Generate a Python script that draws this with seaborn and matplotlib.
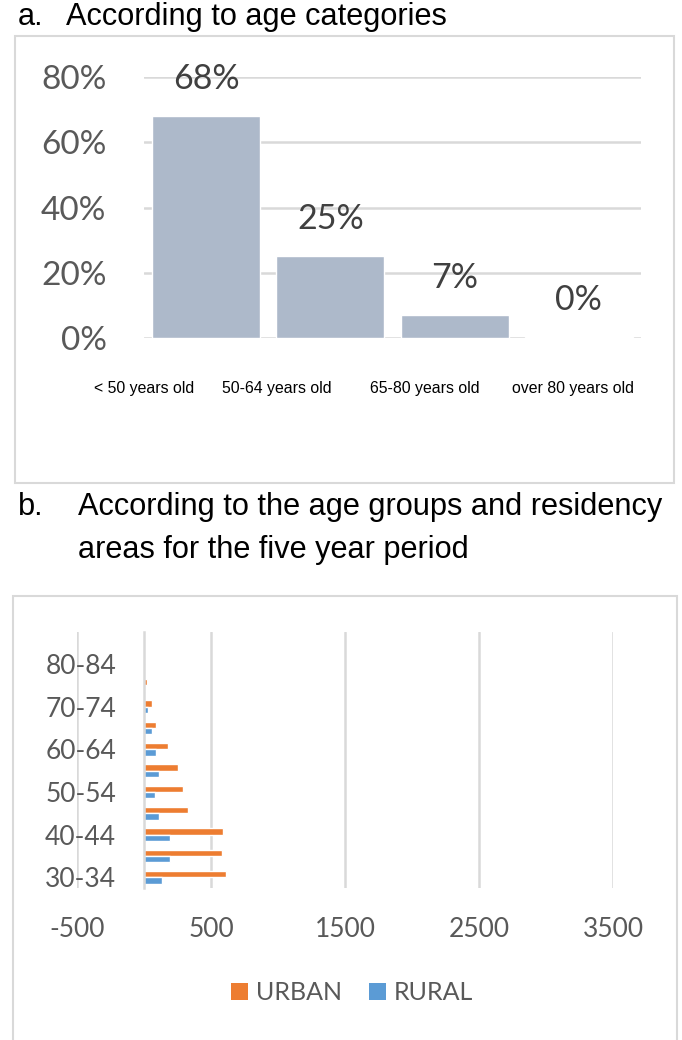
import matplotlib
matplotlib.use('Agg')
import matplotlib.pyplot as plt
import matplotlib.transforms as mtransforms
from matplotlib import font_manager
from matplotlib.patches import Rectangle, Patch
from matplotlib.ticker import PercentFormatter
import seaborn as sns
import pandas as pd

# a. share of patients by age category
age_categories = ['< 50 years old', '50-64 years old', '65-80 years old', 'over 80 years old']
age_share = [0.68, 0.25, 0.07, 0.003]
share_labels = ['68%', '25%', '7%', '0%']

# b. counts by five year age group and residency
age_groups = ['30-34', '35-39', '40-44', '45-49', '50-54', '55-59',
              '60-64', '65-69', '70-74', '75-79', '80-84', '85+']
urban = [615, 583, 586, 330, 288, 256, 176, 92, 56, 20, 10, 0]
rural = [134, 192, 194, 110, 82, 112, 86, 56, 28, 10, 3, 0]
areas = ['URBAN', 'RURAL']
area_colors = {'URBAN': '#ED7D31', 'RURAL': '#5B9BD5'}

sns.set_theme(style='white')
installed = {f.name for f in font_manager.fontManager.ttflist}
narrow = 'Liberation Sans Narrow' in installed
text_family = ['Liberation Sans Narrow', 'DejaVu Sans'] if narrow else ['Liberation Sans', 'DejaVu Sans']
k = 1.0 if narrow else 0.82
num_family = ['Lato', 'DejaVu Sans']
plt.rcParams['font.family'] = num_family
plt.rcParams['axes.unicode_minus'] = False

W, H = 682, 1040
fig = plt.figure(figsize=(W / 100, H / 100), dpi=100)
grid_col = '#d9d9d9'


def frame(x0, y0, x1, y1):
    fig.add_artist(Rectangle((x0 / W, 1 - y1 / H), (x1 - x0) / W, (y1 - y0) / H,
                             transform=fig.transFigure, fill=False,
                             edgecolor=grid_col, lw=1.5))


frame(15, 36, 674, 483)
frame(13, 596, 677, 1045)

fig.text(18 / W, 1 - 17 / H, 'a.', va='center', family=text_family, size=27 * k, color='black')
fig.text(66 / W, 1 - 17 / H, 'According to age categories', va='center',
         family=text_family, size=27 * k, color='black')
fig.text(18 / W, 1 - 507 / H, 'b.', va='center', family=text_family, size=27 * k, color='black')
fig.text(78 / W, 1 - 507 / H, 'According to the age groups and residency', va='center',
         family=text_family, size=27 * k, color='black')
fig.text(78 / W, 1 - 550 / H, 'areas for the five year period', va='center',
         family=text_family, size=27 * k, color='black')

# ---- panel a
ax1 = fig.add_axes([144 / W, 1 - 338 / H, 497 / W, 261 / H])
df_a = pd.DataFrame({'category': age_categories, 'share': age_share})
sns.barplot(data=df_a, x='category', y='share', color='#ADB9CA', saturation=1,
            width=0.87, errorbar=None, ax=ax1)
ax1.set_ylim(0, 0.8)
ax1.set_yticks([0, 0.2, 0.4, 0.6, 0.8])
ax1.yaxis.set_major_formatter(PercentFormatter(1.0, decimals=0))
ax1.yaxis.grid(True, color=grid_col, lw=1.8)
ax1.set_axisbelow(True)
for s in ax1.spines.values():
    s.set_visible(False)
ax1.set_xlabel('')
ax1.set_ylabel('')
ax1.tick_params(axis='y', length=0, pad=27, labelsize=24, labelcolor='#595959')
ax1.tick_params(axis='x', length=0, pad=31, labelsize=14 * k, labelcolor='black')
for bar, lab in zip(ax1.patches, share_labels):
    ax1.annotate(lab, (bar.get_x() + bar.get_width() / 2, bar.get_height()),
                 xytext=(0, 27), textcoords='offset points', ha='center', va='center',
                 size=24.5, color='#404040', annotation_clip=False)
label_shift = [-62, -54, -30, -6]
for lab, dx in zip(ax1.get_xticklabels(), label_shift):
    lab.set_fontfamily(text_family)
    lab.set_transform(lab.get_transform() + mtransforms.ScaledTranslation(dx / 100, 0, fig.dpi_scale_trans))

# ---- panel b
ax2 = fig.add_axes([77 / W, 1 - 888 / H, 536 / W, 256 / H])
df_b = pd.DataFrame({'age': age_groups * 2,
                     'count': urban + rural,
                     'area': ['URBAN'] * len(age_groups) + ['RURAL'] * len(age_groups)})
sns.barplot(data=df_b, x='count', y='age', hue='area', order=age_groups[::-1],
            hue_order=areas, palette=area_colors, saturation=1, width=0.6,
            orient='h', errorbar=None, ax=ax2)
ax2.get_legend().remove()
ax2.set_xlim(-500, 3500)
ax2.set_xticks([-500, 500, 1500, 2500, 3500])
ax2.xaxis.grid(True, color=grid_col, lw=1.8)
ax2.set_axisbelow(True)
for name in ['top', 'right', 'bottom']:
    ax2.spines[name].set_visible(False)
ax2.spines['left'].set_position(('data', 0))
ax2.spines['left'].set_color(grid_col)
ax2.spines['left'].set_linewidth(1.8)
shown = [g if i % 2 == 0 else '' for i, g in enumerate(age_groups)][::-1]
ax2.set_yticks(range(len(age_groups)))
ax2.set_yticklabels(shown)
ax2.set_xlabel('')
ax2.set_ylabel('')
ax2.tick_params(axis='y', length=0, pad=20, labelsize=19, labelcolor='#595959')
ax2.tick_params(axis='x', length=0, pad=21, labelsize=19, labelcolor='#595959')

handles = [Patch(facecolor=area_colors[a], edgecolor='none') for a in areas]
fig.legend(handles, areas, loc='center', bbox_to_anchor=(352 / W, 1 - 993 / H), ncol=2,
           frameon=False, handlelength=0.68, handleheight=0.64, handletextpad=0.3,
           columnspacing=1.1, prop={'family': num_family, 'size': 18}, labelcolor='#595959')

fig.savefig('out.png', dpi=100)
